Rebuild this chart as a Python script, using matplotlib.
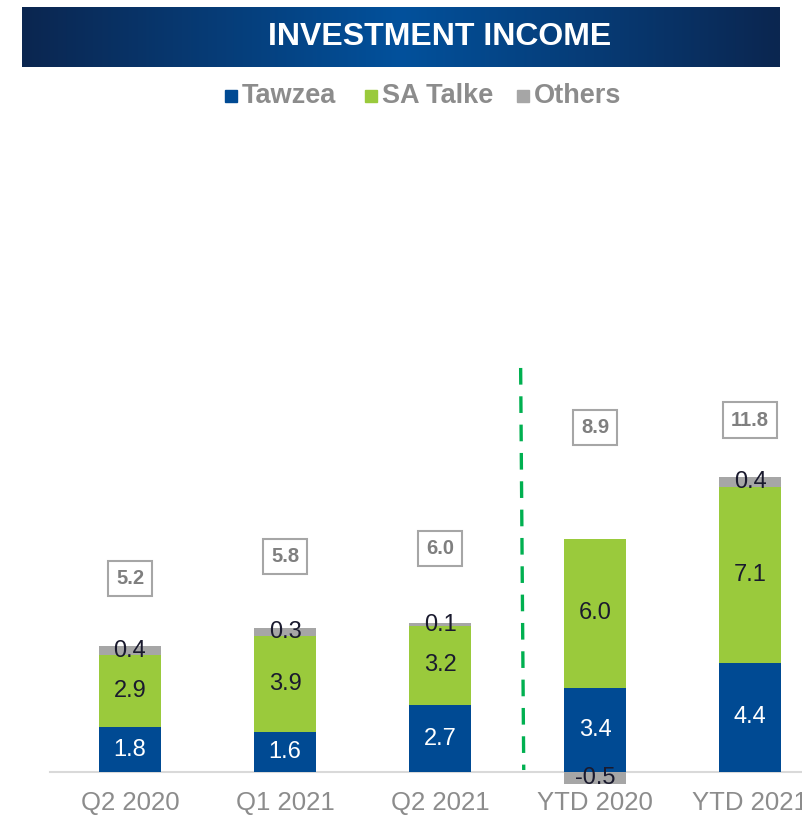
import numpy as np
import matplotlib.pyplot as plt
from matplotlib.patches import Rectangle
from matplotlib.colors import LinearSegmentedColormap

# --- Data ---
periods = ['Q2 2020', 'Q1 2021', 'Q2 2021', 'YTD 2020', 'YTD 2021']
tawzea = [1.8, 1.6, 2.7, 3.4, 4.4]
sa_talke = [2.9, 3.9, 3.2, 6.0, 7.1]
others = [0.4, 0.3, 0.1, -0.5, 0.4]
totals = [5.2, 5.8, 6.0, 8.9, 11.8]

# where the total boxes sit (data units above the baseline)
total_box_y = [7.8, 8.7, 9.0, 13.9, 14.2]

blue = '#004A93'
green = '#9ACA3C'
grey = '#A6A6A6'
text_grey = '#8C8C8C'

plt.rcParams['font.family'] = ['Liberation Sans', 'DejaVu Sans']

fig = plt.figure(figsize=(8.02, 8.18), dpi=100)
W, H = 802, 818

# --- Header banner with gradient ---
hdr = fig.add_axes([22 / W, 1 - 67 / H, (780 - 22) / W, 60 / H])
cmap = LinearSegmentedColormap.from_list('hdr', ['#0B2650', '#02519C', '#0B2650'])
hdr.imshow(np.linspace(0, 1, 256)[None, :], aspect='auto', cmap=cmap, extent=[0, 1, 0, 1])
hdr.set_axis_off()
fig.text(440 / W, 1 - 37 / H, 'INVESTMENT INCOME', color='white', fontsize=23,
         fontweight='bold', ha='center', va='center')

# --- Legend (manual) ---
legend_items = [('Tawzea', blue, 225), ('SA Talke', green, 365), ('Others', grey, 517)]
for name, col, xpx in legend_items:
    fig.patches.append(Rectangle((xpx / W, 1 - 102 / H), 12 / W, 12 / H,
                                 transform=fig.transFigure, color=col))
    fig.text((xpx + 17) / W, 1 - 96 / H, name, color=text_grey, fontsize=19.5,
             fontweight='bold', ha='left', va='center')

# --- Main axes ---
ax = fig.add_axes([50 / W, (H - 772) / H, (W - 50) / W, (772 - 130) / H])
x = np.arange(len(periods))
width = 0.4

ax.bar(x, tawzea, width, color=blue)
ax.bar(x, sa_talke, width, bottom=tawzea, color=green)
oth_bottom = [t + s if o >= 0 else 0 for t, s, o in zip(tawzea, sa_talke, others)]
ax.bar(x, others, width, bottom=oth_bottom, color=grey, clip_on=False)

for i in range(len(periods)):
    ax.text(x[i], tawzea[i] / 2, f'{tawzea[i]:.1f}', ha='center', va='center',
            color='white', fontsize=17)
    ax.text(x[i], tawzea[i] + sa_talke[i] / 2, f'{sa_talke[i]:.1f}', ha='center',
            va='center', color='#1a1a2e', fontsize=17)
    ax.text(x[i], oth_bottom[i] + others[i] / 2, f'{others[i]:.1f}', ha='center',
            va='center', color='#1a1a2e', fontsize=17, clip_on=False)
    ax.text(x[i], total_box_y[i], f'{totals[i]:.1f}', ha='center', va='center',
            color='#7F7F7F', fontsize=14.5, fontweight='bold',
            bbox=dict(boxstyle='square,pad=0.4', fc='white', ec=grey, lw=1.5))

# green dashed separator
ax.plot([2.52, 2.54], [0.08, 16.3][::-1], color='#00B050', lw=2.4, ls=(0, (5, 3.5)))

ax.set_xlim(-0.516, 4.335)
ax.set_ylim(0, 25.9)
ax.set_xticks(x, periods)
ax.tick_params(axis='x', length=0, pad=14, labelsize=18.5, labelcolor=text_grey)
ax.set_yticks([])
for s in ['top', 'right', 'left']:
    ax.spines[s].set_visible(False)
ax.spines['bottom'].set_color('#D9D9D9')
ax.spines['bottom'].set_linewidth(1.5)
ax.spines['bottom'].set_zorder(0.5)

fig.savefig('out.png', dpi=100)
